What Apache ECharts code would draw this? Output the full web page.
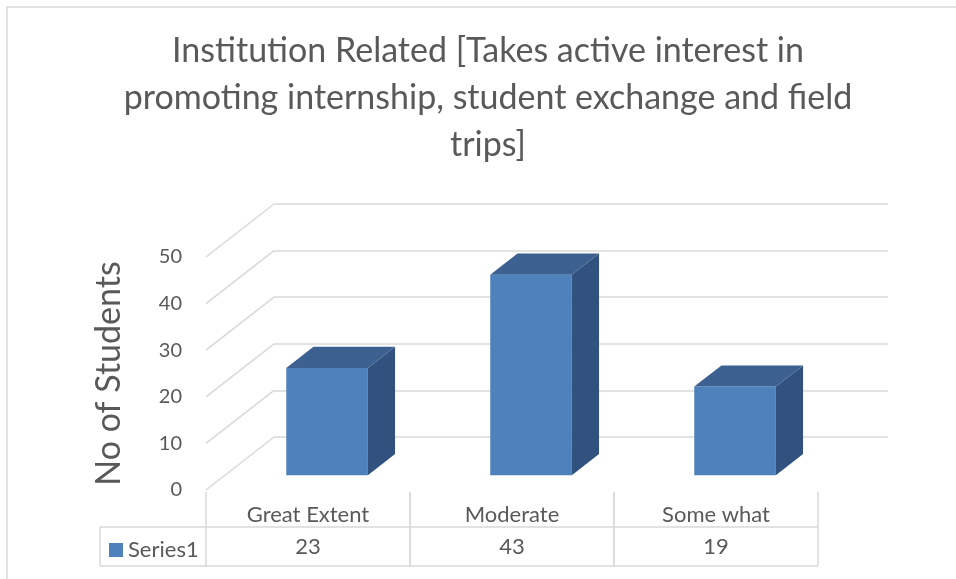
<!DOCTYPE html>
<html>
<head>
<meta charset="utf-8">
<script src="https://cdn.jsdelivr.net/npm/echarts@6/dist/echarts.min.js"></script>
<style>
  html, body { margin: 0; padding: 0; background: #fff; }
  #chart { width: 956px; height: 579px; }
</style>
</head>
<body>
<div id="chart"></div>
<script>
// chart data
const categories = ['Great Extent', 'Moderate', 'Some what'];
const values = [23, 43, 19];
const seriesName = 'Series1';
const yTicks = [0, 10, 20, 30, 40, 50];

// look of the fake 3d box
const FONT = 'Lato';
const TEXT = '#595959';
const GRIDC = '#d9d9d9';
const DEPTH = [68, -53];          // front plane -> back wall offset
const BAR_F = 0.28, BAR_B = 0.68; // bar position inside the depth

const chart = echarts.init(document.getElementById('chart'), null, {renderer: 'canvas'});

// diagonal gridlines on the left side wall
function renderWall(params, api) {
  const v = api.value(0);
  const y = api.coord([0, v])[1];
  const x = params.coordSys.x;
  return {
    type: 'line',
    shape: {x1: x, y1: y, x2: x + DEPTH[0], y2: y + DEPTH[1]},
    style: {stroke: GRIDC, lineWidth: 1.5}
  };
}

// 3d column: front, side and top faces
function renderBar(params, api) {
  const i = api.value(0);
  const base = api.coord([i, 0]);
  const top = api.coord([i, api.value(1)]);
  const w = api.size([1, 0])[0] * 0.4;
  const ox = DEPTH[0] * BAR_F, oy = DEPTH[1] * BAR_F;
  const dx = DEPTH[0] * (BAR_B - BAR_F), dy = DEPTH[1] * (BAR_B - BAR_F);
  const x0 = base[0] - w / 2 + ox, x1 = x0 + w;
  const yb = base[1] + oy, yt = top[1] + oy;
  return {
    type: 'group',
    children: [
      {type: 'rect', shape: {x: x0, y: yt, width: w, height: yb - yt},
        style: {fill: '#4f81bd'}},
      {type: 'polygon', shape: {points: [[x1, yb], [x1 + dx, yb + dy], [x1 + dx, yt + dy], [x1, yt]]},
        style: {fill: '#31527e'}},
      {type: 'polygon', shape: {points: [[x0, yt], [x1, yt], [x1 + dx, yt + dy], [x0 + dx, yt + dy]]},
        style: {fill: '#3c6190'}}
    ]
  };
}

// data table under the plot
function renderTable(params, api) {
  const i = api.value(0);
  const p = api.coord([i, 0]);
  const half = api.size([1, 0])[0] / 2;
  const yTop = p[1] + 2, yMid = p[1] + 37, yBot = p[1] + 76;
  const ls = {stroke: GRIDC, lineWidth: 1.5};
  const kids = [
    {type: 'line', shape: {x1: p[0] - half, y1: yTop, x2: p[0] - half, y2: yBot}, style: ls},
    {type: 'line', shape: {x1: p[0] + half, y1: yTop, x2: p[0] + half, y2: yBot}, style: ls},
    {type: 'line', shape: {x1: p[0] - half, y1: yMid, x2: p[0] + half, y2: yMid}, style: ls},
    {type: 'line', shape: {x1: p[0] - half, y1: yBot, x2: p[0] + half, y2: yBot}, style: ls},
    {type: 'text', style: {x: p[0], y: p[1] + 25, text: categories[i], fill: TEXT,
      font: '22px ' + FONT, align: 'center', verticalAlign: 'middle'}},
    {type: 'text', style: {x: p[0], y: p[1] + 57, text: String(api.value(1)), fill: TEXT,
      font: '22px ' + FONT, align: 'center', verticalAlign: 'middle'}}
  ];
  if (i === 0) {
    const xl = p[0] - half - 106;
    kids.push(
      {type: 'line', shape: {x1: xl, y1: yMid, x2: p[0] - half, y2: yMid}, style: ls},
      {type: 'line', shape: {x1: xl, y1: yBot, x2: p[0] - half, y2: yBot}, style: ls},
      {type: 'line', shape: {x1: xl, y1: yMid, x2: xl, y2: yBot}, style: ls}
    );
  }
  return {type: 'group', children: kids};
}

const option = {
  backgroundColor: '#fff',
  animation: false,
  title: {
    text: 'Institution Related [Takes active interest in\npromoting internship, student exchange and field\ntrips]',
    left: 483,
    top: 23,
    textAlign: 'center',
    textStyle: {fontFamily: FONT, fontSize: 34, fontWeight: 'normal', color: TEXT, lineHeight: 47}
  },
  legend: {
    data: [seriesName],
    left: 104,
    top: 534,
    icon: 'rect',
    itemWidth: 14,
    itemHeight: 14,
    textStyle: {fontFamily: FONT, fontSize: 22, color: TEXT},
    selectedMode: false
  },
  graphic: [{
    type: 'rect',
    shape: {x: 7, y: 7, width: 1000, height: 1000},
    style: {fill: 'none', stroke: GRIDC, lineWidth: 1.5},
    silent: true
  }],
  grid: [
    {left: 206, right: 138, top: 257, bottom: 89},
    {left: 274, right: 68, top: 204, bottom: 142}
  ],
  xAxis: [
    {type: 'category', gridIndex: 0, data: categories, show: false},
    {type: 'category', gridIndex: 1, data: categories, show: false}
  ],
  yAxis: [
    {
      type: 'value', gridIndex: 0, min: 0, max: 50, interval: 10,
      axisLine: {show: false}, axisTick: {show: false}, splitLine: {show: false},
      axisLabel: {margin: 24, fontFamily: FONT, fontSize: 20, color: TEXT},
      name: 'No of Students', nameLocation: 'middle', nameGap: 80,
      nameTextStyle: {fontFamily: FONT, fontSize: 34, color: TEXT}
    },
    {
      type: 'value', gridIndex: 1, min: 0, max: 50, interval: 10,
      axisLine: {show: false}, axisTick: {show: false}, axisLabel: {show: false},
      splitLine: {lineStyle: {color: GRIDC, width: 1.5}}
    }
  ],
  series: [
    {
      type: 'custom', name: 'wall', xAxisIndex: 0, yAxisIndex: 0,
      renderItem: renderWall, clip: false, silent: true, z: 1,
      data: yTicks.map(v => [v])
    },
    {
      type: 'custom', name: seriesName, xAxisIndex: 0, yAxisIndex: 0,
      renderItem: renderBar, clip: false, z: 3,
      itemStyle: {color: '#4f81bd'},
      encode: {x: 0, y: 1},
      data: values.map((v, i) => [i, v])
    },
    {
      type: 'custom', name: 'table', xAxisIndex: 0, yAxisIndex: 0,
      renderItem: renderTable, clip: false, silent: true, z: 2,
      data: values.map((v, i) => [i, v])
    }
  ]
};

chart.setOption(option);
</script>
</body>
</html>
